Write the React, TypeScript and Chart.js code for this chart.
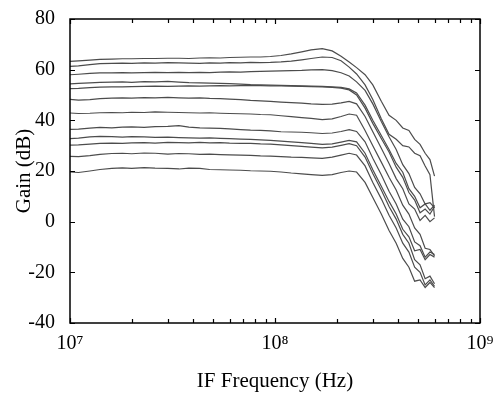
import React, { useEffect, useRef } from "react";
import { Chart, registerables } from "chart.js";

Chart.register(...registerables);

const frequencies = [
  1.0e7, 1.1e7, 1.25e7, 1.4e7, 1.6e7, 1.8e7, 2.0e7, 2.3e7, 2.6e7, 3.0e7,
  3.4e7, 3.8e7, 4.3e7, 4.8e7, 5.4e7, 6.0e7, 6.8e7, 7.6e7, 8.5e7, 9.5e7,
  1.07e8, 1.2e8, 1.35e8, 1.5e8, 1.7e8, 1.9e8, 2.1e8, 2.3e8, 2.5e8, 2.75e8,
  3.0e8, 3.3e8, 3.6e8, 3.9e8, 4.2e8, 4.5e8, 4.8e8, 5.1e8, 5.4e8, 5.7e8, 6.0e8,
];

const gain1 = [63.3, 63.5, 63.8, 64.1, 64.2, 64.3, 64.3, 64.4, 64.4, 64.5, 64.5, 64.4, 64.6, 64.7, 64.6, 64.8, 64.9, 65.0, 65.0, 65.2, 65.6, 66.2, 67.0, 67.8, 68.3, 67.4, 65.3, 63.0, 60.8, 58.0, 54.0, 47.5, 42.0, 40.0, 37.0, 36.0, 32.5, 30.5, 27.0, 24.5, 18.0];
const gain2 = [61.3, 61.5, 62.0, 62.4, 62.5, 62.6, 62.5, 62.7, 62.6, 62.8, 62.7, 62.6, 62.5, 62.7, 62.6, 62.8, 62.7, 62.9, 62.8, 62.9, 63.1, 63.4, 63.9, 64.4, 65.0, 64.8, 63.5, 61.0, 58.3, 54.0, 48.2, 40.6, 34.5, 32.5, 30.0, 29.5, 27.0, 26.0, 22.0, 18.5, 2.0];
const gain3 = [58.0, 58.2, 58.5, 58.7, 58.7, 58.8, 58.7, 58.8, 58.9, 58.8, 58.9, 58.8, 58.9, 58.8, 59.0, 59.1, 59.0, 59.2, 59.3, 59.4, 59.5, 59.6, 59.7, 59.9, 60.0, 59.6, 58.8, 57.5, 55.2, 51.8, 46.5, 39.5, 33.5, 28.5, 22.5, 19.0, 13.5, 11.0, 7.0, 7.5, 5.5];
const gain4 = [54.4, 54.6, 54.8, 55.0, 55.1, 55.2, 55.0, 55.3, 55.2, 55.4, 55.1, 54.9, 54.8, 54.7, 54.6, 54.5, 54.3, 54.1, 54.0, 53.9, 53.8, 53.7, 53.6, 53.5, 53.4, 53.2, 53.0, 52.4, 50.8, 46.0, 40.0, 34.0, 28.5, 23.0, 19.5, 13.0, 10.0, 5.5, 7.0, 4.5, 6.5];
const gain5 = [52.5, 52.6, 52.9, 53.1, 53.2, 53.2, 53.3, 53.4, 53.5, 53.4, 53.5, 53.6, 53.5, 53.6, 53.7, 53.6, 53.7, 53.8, 53.7, 53.6, 53.6, 53.5, 53.4, 53.3, 53.2, 53.0, 52.7, 52.0, 50.0, 44.8, 38.8, 32.8, 27.5, 21.5, 17.5, 11.5, 8.5, 3.5, 5.0, 3.0, 6.0];
const gain6 = [48.3, 48.0, 48.2, 48.6, 48.8, 48.9, 48.8, 49.0, 48.9, 49.1, 48.9, 48.8, 48.9, 48.7, 48.6, 48.4, 48.2, 47.9, 47.7, 47.5, 47.2, 47.0, 46.8, 46.5, 46.3, 46.4, 46.9, 47.5, 46.5, 41.5, 35.5, 29.0, 23.0, 17.0, 13.0, 7.0, 5.0, 0.5, 2.5, 0.0, 1.5];
const gain7 = [42.9, 42.7, 42.8, 43.0, 43.1, 43.0, 43.2, 43.1, 43.3, 43.2, 43.1, 43.0, 42.9, 43.0, 42.8, 42.7, 42.6, 42.5, 42.3, 42.2, 41.8, 41.5, 41.1, 40.8, 40.3, 40.6, 41.5, 42.5, 42.0, 36.0, 30.0, 23.5, 17.5, 12.5, 6.5, 3.0, -2.5, -5.0, -10.5, -11.0, -13.5];
const gain8 = [36.4, 36.5, 36.9, 37.2, 37.0, 37.3, 37.4, 37.2, 37.5, 37.6, 37.9, 37.3, 37.0, 36.9, 36.8, 36.6, 36.3, 36.1, 36.0, 35.8, 35.5, 35.4, 35.3, 35.1, 34.8, 35.0, 35.6, 36.3, 35.6, 31.5, 25.0, 18.5, 12.0, 7.0, 1.0, -2.0, -8.0, -9.5, -14.0, -12.0, -13.0];
const gain9 = [32.8, 33.0, 33.5, 33.7, 33.6, 33.4, 33.6, 33.5, 33.3, 33.4, 33.2, 33.1, 33.0, 33.1, 32.9, 32.8, 32.6, 32.5, 32.3, 32.1, 31.8, 31.5, 31.2, 30.9, 30.5, 30.7, 31.4, 32.1, 31.5, 27.0, 20.5, 14.0, 8.0, 3.0, -3.0, -6.0, -11.5, -11.0, -15.0, -13.0, -14.0];
const gain10 = [30.2, 30.3, 30.6, 30.9, 31.0, 30.9, 31.1, 31.2, 31.0, 31.3, 31.2, 31.1, 31.3, 31.1, 31.2, 31.0, 30.9, 30.9, 30.7, 30.6, 30.3, 30.0, 29.7, 29.4, 29.1, 29.4, 30.1, 30.8, 30.0, 25.5, 19.0, 12.5, 6.0, 1.0, -5.0, -8.5, -15.0, -17.0, -22.5, -21.5, -24.5];
const gain11 = [25.8, 25.7, 26.1, 26.6, 26.9, 27.0, 26.8, 27.1, 27.0, 26.7, 26.9, 26.8, 26.6, 26.7, 26.5, 26.4, 26.3, 26.2, 26.0, 25.9, 25.7, 25.5, 25.4, 25.2, 25.0, 25.5, 26.3, 27.0, 26.3, 22.0, 15.5, 9.0, 2.5, -2.5, -8.5, -12.0, -18.0, -20.0, -25.0, -23.0, -25.5];
const gain12 = [19.6, 19.4, 20.0, 20.6, 21.0, 21.2, 21.0, 21.3, 21.1, 21.0, 20.8, 21.1, 21.0, 20.6, 20.5, 20.4, 20.3, 20.1, 20.0, 19.9, 19.6, 19.2, 18.9, 18.6, 18.3, 18.6, 19.4, 20.0, 19.6, 15.5, 9.5, 3.0, -3.5, -8.5, -14.5, -18.0, -23.5, -23.0, -26.0, -24.0, -26.0];

const allGains = [gain1, gain2, gain3, gain4, gain5, gain6, gain7, gain8, gain9, gain10, gain11, gain12];

const xMajorTicks = [1e7, 1e8, 1e9];
const xMinorTicks = [2e7, 3e7, 4e7, 5e7, 6e7, 7e7, 8e7, 9e7, 2e8, 3e8, 4e8, 5e8, 6e8, 7e8, 8e8, 9e8];
const yTicks = [-40, -20, 0, 20, 40, 60, 80];
const supDigits: Record<string, string> = { "0": "⁰", "1": "¹", "2": "²", "3": "³", "4": "⁴", "5": "⁵", "6": "⁶", "7": "⁷", "8": "⁸", "9": "⁹" };

const FONT = "'Liberation Serif', 'Times New Roman', serif";

const frameTicks = {
  id: "frameTicks",
  afterDraw(chart: any) {
    const { ctx, chartArea } = chart;
    const xs = chart.scales.x;
    const ys = chart.scales.y;
    const { left, right, top, bottom } = chartArea;
    ctx.save();
    ctx.strokeStyle = "#000";
    ctx.lineWidth = 1.2;
    ctx.beginPath();
    const tick = (px: number, len: number) => {
      ctx.moveTo(px, bottom);
      ctx.lineTo(px, bottom - len);
      ctx.moveTo(px, top);
      ctx.lineTo(px, top + len);
    };
    xMajorTicks.forEach((v) => tick(Math.round(xs.getPixelForValue(v)) + 0.5, 5));
    xMinorTicks.forEach((v) => tick(Math.round(xs.getPixelForValue(v)) + 0.5, 4));
    yTicks.forEach((v) => {
      const py = Math.round(ys.getPixelForValue(v)) + 0.5;
      ctx.moveTo(left, py);
      ctx.lineTo(left + 5, py);
      ctx.moveTo(right, py);
      ctx.lineTo(right - 5, py);
    });
    ctx.stroke();
    ctx.lineWidth = 1.5;
    ctx.strokeRect(left, top, right - left, bottom - top);
    ctx.restore();
  },
};

export default function App() {
  const ref = useRef<HTMLCanvasElement | null>(null);
  useEffect(() => {
    document.body.style.margin = "0";
    const canvas = ref.current;
    if (!canvas) return;
    const chart = new Chart(canvas, {
      type: "line",
      data: {
        datasets: allGains.map((g, i) => ({
          label: "curve " + (i + 1),
          data: frequencies.map((f, j) => ({ x: f, y: g[j] })),
          borderColor: "#4c4c4c",
          borderWidth: 1.2,
          pointRadius: 0,
          tension: 0,
          fill: false,
        })),
      },
      options: {
        animation: false,
        responsive: false,
        devicePixelRatio: 1,
        layout: { padding: { top: 13, right: 21, left: 0, bottom: 0 } },
        plugins: { legend: { display: false }, tooltip: { enabled: false } },
        scales: {
          x: {
            type: "logarithmic",
            min: 1e7,
            max: 1e9,
            grid: { display: false },
            border: { display: false },
            ticks: {
              autoSkip: false,
              maxRotation: 0,
              padding: 1,
              color: "#000",
              font: { family: FONT, size: 20 },
              callback: (value: any) => {
                const e = Math.log10(Number(value));
                if (Math.abs(e - Math.round(e)) < 1e-9) {
                  return "10" + String(Math.round(e)).split("").map((d) => supDigits[d]).join("");
                }
                return "";
              },
            },
            title: {
              display: true,
              text: "IF Frequency (Hz)",
              color: "#000",
              font: { family: FONT, size: 21 },
              padding: { top: 0, bottom: 0 },
            },
            afterFit: (s: any) => {
              s.height = 71;
            },
          },
          y: {
            type: "linear",
            min: -40,
            max: 80,
            grid: { display: false },
            border: { display: false },
            ticks: {
              stepSize: 20,
              padding: 7,
              color: "#000",
              font: { family: FONT, size: 20 },
            },
            title: {
              display: true,
              text: "Gain (dB)",
              color: "#000",
              font: { family: FONT, size: 21 },
              padding: { top: 12, bottom: 0 },
            },
            afterFit: (s: any) => {
              s.width = 70;
            },
          },
        },
      },
      plugins: [frameTicks],
    });
    return () => chart.destroy();
  }, []);
  return (
    <div style={{ width: 501, height: 394 }}>
      <canvas ref={ref} width={501} height={394} style={{ display: "block" }} />
    </div>
  );
}
